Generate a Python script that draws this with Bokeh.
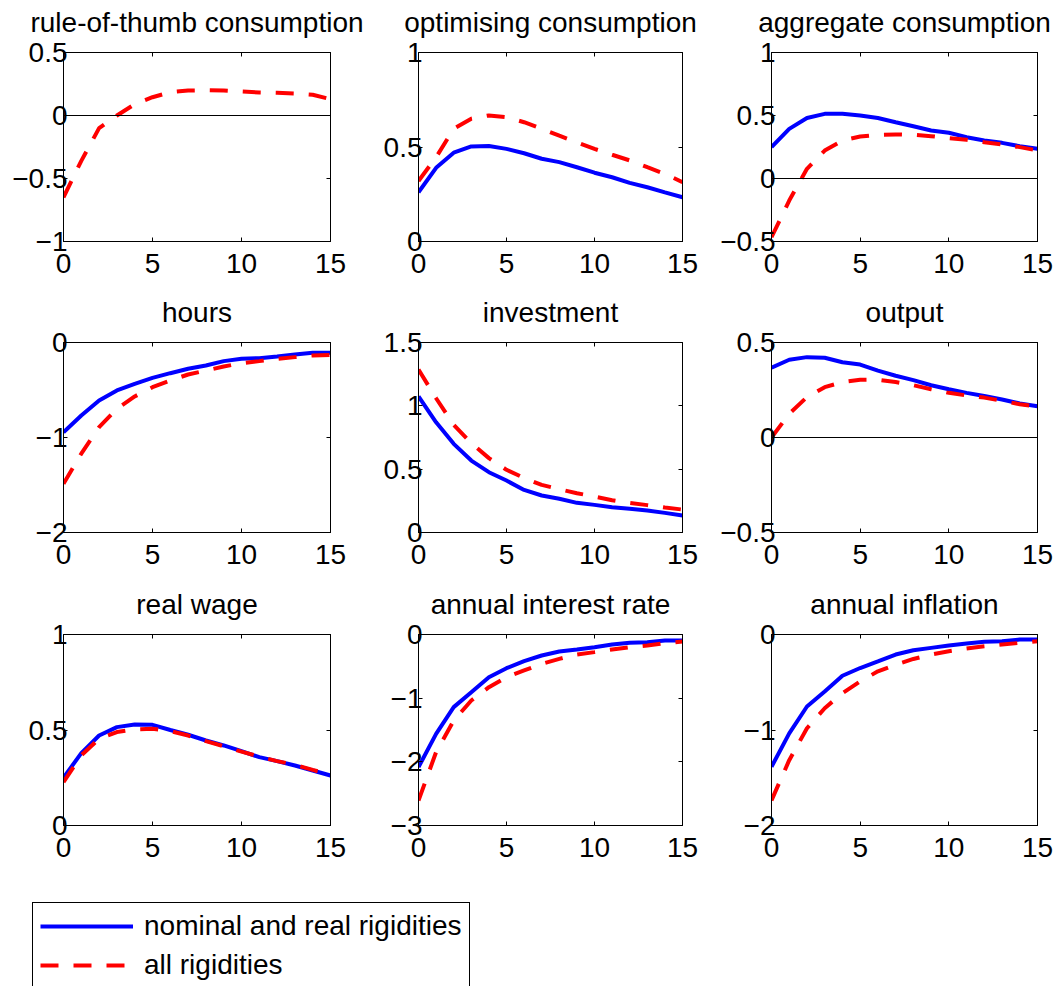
from bokeh.plotting import figure
from bokeh.models import (Range1d, LinearAxis, FixedTicker, CustomJSTickFormatter,
                          CustomLabelingPolicy, Span, Legend, LegendItem)
from bokeh.layouts import column, row
from bokeh.embed import file_html
from bokeh.resources import INLINE

# ---------------- data ----------------
periods = list(range(16))

titles = ["rule-of-thumb consumption", "optimising consumption", "aggregate consumption",
          "hours", "investment", "output",
          "real wage", "annual interest rate", "annual inflation"]

series_labels = ["nominal and real rigidities", "all rigidities"]

# nominal and real rigidities (blue, solid)
rot_cons_nr = None
opt_cons_nr = [0.26, 0.39, 0.47, 0.503, 0.505, 0.49, 0.467, 0.438, 0.42, 0.393, 0.364, 0.34, 0.31, 0.287, 0.26, 0.234]
agg_cons_nr = [0.25, 0.394, 0.48, 0.513, 0.513, 0.50, 0.48, 0.447, 0.415, 0.381, 0.363, 0.328, 0.302, 0.283, 0.256, 0.236]
hours_nr = [-0.944, -0.768, -0.61, -0.505, -0.435, -0.372, -0.323, -0.277, -0.242, -0.196, -0.172, -0.165, -0.147, -0.126, -0.109, -0.109]
invest_nr = [1.074, 0.87, 0.70, 0.568, 0.476, 0.41, 0.336, 0.292, 0.266, 0.234, 0.218, 0.20, 0.187, 0.174, 0.155, 0.134]
output_nr = [0.367, 0.409, 0.423, 0.42, 0.396, 0.384, 0.352, 0.325, 0.302, 0.275, 0.254, 0.235, 0.218, 0.20, 0.179, 0.165]
wage_nr = [0.25, 0.379, 0.471, 0.515, 0.529, 0.527, 0.50, 0.475, 0.445, 0.419, 0.389, 0.358, 0.337, 0.314, 0.288, 0.262]
rate_nr = [-2.084, -1.56, -1.141, -0.906, -0.67, -0.529, -0.419, -0.33, -0.267, -0.236, -0.199, -0.157, -0.131, -0.12, -0.094, -0.094]
infl_nr = [-1.386, -1.035, -0.754, -0.596, -0.432, -0.351, -0.281, -0.21, -0.165, -0.14, -0.116, -0.095, -0.077, -0.07, -0.053, -0.053]

# all rigidities (red, dashed)
rot_cons_all = [-0.65, -0.36, -0.10, 0.0, 0.09, 0.145, 0.185, 0.198, 0.20, 0.198, 0.19, 0.183, 0.18, 0.175, 0.165, 0.13]
opt_cons_all = [0.32, 0.446, 0.596, 0.65, 0.667, 0.658, 0.631, 0.596, 0.56, 0.525, 0.49, 0.459, 0.429, 0.393, 0.358, 0.314]
agg_cons_all = [-0.466, -0.175, 0.077, 0.222, 0.302, 0.333, 0.347, 0.35, 0.347, 0.336, 0.32, 0.307, 0.288, 0.27, 0.249, 0.222]
hours_all = [-1.487, -1.17, -0.89, -0.698, -0.568, -0.47, -0.40, -0.337, -0.295, -0.253, -0.218, -0.196, -0.172, -0.154, -0.137, -0.13]
invest_all = [1.287, 1.06, 0.85, 0.705, 0.587, 0.495, 0.43, 0.376, 0.342, 0.31, 0.284, 0.255, 0.234, 0.216, 0.197, 0.181]
output_all = [0.0, 0.125, 0.213, 0.265, 0.292, 0.304, 0.304, 0.292, 0.275, 0.254, 0.235, 0.221, 0.21, 0.193, 0.175, 0.162]
wage_all = [0.227, 0.367, 0.454, 0.489, 0.503, 0.506, 0.494, 0.471, 0.442, 0.415, 0.387, 0.361, 0.337, 0.318, 0.291, 0.267]
rate_all = [-2.607, -1.848, -1.351, -1.037, -0.827, -0.67, -0.565, -0.461, -0.382, -0.314, -0.277, -0.236, -0.199, -0.173, -0.136, -0.11]
infl_all = [-1.737, -1.316, -0.982, -0.772, -0.614, -0.491, -0.386, -0.316, -0.256, -0.21, -0.175, -0.147, -0.123, -0.105, -0.088, -0.07]

nr_series = [rot_cons_nr, opt_cons_nr, agg_cons_nr, hours_nr, invest_nr, output_nr, wage_nr, rate_nr, infl_nr]
all_series = [rot_cons_all, opt_cons_all, agg_cons_all, hours_all, invest_all, output_all, wage_all, rate_all, infl_all]

y_limits = [(-1, 0.5), (0, 1), (-0.5, 1), (-2, 0), (0, 1.5), (-0.5, 0.5), (0, 1), (-3, 0), (-2, 0)]
y_tick_values = [[-1, -0.5, 0, 0.5], [0, 0.5, 1], [-0.5, 0, 0.5, 1],
                 [-2, -1, 0], [0, 0.5, 1, 1.5], [-0.5, 0, 0.5],
                 [0, 0.5, 1], [-3, -2, -1, 0], [-2, -1, 0]]
x_tick_values = [0, 5, 10, 15]

# ---------------- styling ----------------
FONT = "Liberation Sans"
FS = "28px"
BLUE = "#0000ff"
RED = "#ff0000"
LW = 4
DASH = "18 15"

col_border_l = [63, 55, 55]
col_frame_w = [267, 264, 266]
col_border_r = [33, 34, 20]
row_frame_h = [189, 190, 191]
row_border_b = [49, 50, 55]

fmt = CustomJSTickFormatter(code="""
    if (tick < 0) { return "\\u2212" + String(Math.abs(tick)); }
    return String(tick);
""")
no_labels = CustomLabelingPolicy(code="return []")


def tick_only_axis(ticks, standoff):
    return LinearAxis(ticker=FixedTicker(ticks=ticks), major_tick_in=4, major_tick_out=0,
                      minor_tick_line_color=None, major_label_text_font_size="1px",
                      major_label_policy=no_labels,
                      major_label_standoff=standoff, axis_line_color="black")


def make_panel(i):
    r, c = divmod(i, 3)
    lo, hi = y_limits[i]
    p = figure(frame_width=col_frame_w[c], frame_height=row_frame_h[r],
               min_border_left=col_border_l[c], min_border_right=col_border_r[c],
               min_border_top=52, min_border_bottom=row_border_b[r],
               x_range=Range1d(0, 15), y_range=Range1d(lo, hi),
               output_backend="svg", toolbar_location=None,
               title=titles[i])
    p.title.align = "center"
    p.title.text_font = FONT
    p.title.text_font_size = FS
    p.title.text_font_style = "normal"
    p.title.text_color = "black"
    p.title.standoff = 6
    p.xgrid.grid_line_color = None
    p.ygrid.grid_line_color = None
    p.outline_line_color = "black"
    p.outline_line_alpha = 1
    p.outline_line_width = 1
    p.background_fill_color = "white"
    p.border_fill_color = "white"

    p.xaxis.ticker = FixedTicker(ticks=x_tick_values)
    p.yaxis.ticker = FixedTicker(ticks=y_tick_values[i])
    for ax in (p.xaxis[0], p.yaxis[0]):
        ax.formatter = fmt
        ax.major_tick_in = 4
        ax.major_tick_out = 0
        ax.minor_tick_line_color = None
        ax.axis_line_color = "black"
        ax.major_tick_line_color = "black"
        ax.major_label_text_font = FONT
        ax.major_label_text_font_size = FS
        ax.major_label_text_color = "black"
    p.xaxis.major_label_standoff = 12
    p.yaxis.major_label_standoff = -4

    p.add_layout(tick_only_axis(x_tick_values, 8), "above")
    p.add_layout(tick_only_axis(y_tick_values[i], 0), "right")

    p.add_layout(Span(location=0, dimension="width", line_color="black", line_width=1))

    if nr_series[i] is not None:
        p.line(periods, nr_series[i], line_color=BLUE, line_width=LW)
    p.line(periods, all_series[i], line_color=RED, line_width=LW, line_dash=DASH)
    return p


panels = [make_panel(i) for i in range(9)]

# legend figure (sample lines sit outside the visible range; only the legend shows)
lg = figure(width=500, height=106, min_border_left=32, min_border_top=22,
            min_border_right=0, min_border_bottom=0,
            x_range=Range1d(0, 1), y_range=Range1d(0, 1),
            x_axis_type=None, y_axis_type=None,
            output_backend="svg", toolbar_location=None)
lg.outline_line_color = None
lg.xgrid.grid_line_color = None
lg.ygrid.grid_line_color = None
r_blue = lg.line([-10, -9], [-10, -10], line_color=BLUE, line_width=LW)
r_red = lg.line([-10, -9], [-10, -10], line_color=RED, line_width=LW, line_dash=DASH)
legend = Legend(items=[LegendItem(label=series_labels[0], renderers=[r_blue]),
                       LegendItem(label=series_labels[1], renderers=[r_red])],
                location="top_left", margin=0, padding=7, spacing=7,
                glyph_width=93, glyph_height=28, label_height=28, label_standoff=11,
                label_text_font=FONT, label_text_font_size=FS, label_text_color="black",
                border_line_color="black", border_line_width=1, border_line_alpha=1,
                background_fill_color="white", background_fill_alpha=1)
lg.add_layout(legend, "center")

layout = column(row(*panels[0:3]), row(*panels[3:6]), row(*panels[6:9]), lg)

open("out.html", "w").write(file_html(layout, INLINE))
